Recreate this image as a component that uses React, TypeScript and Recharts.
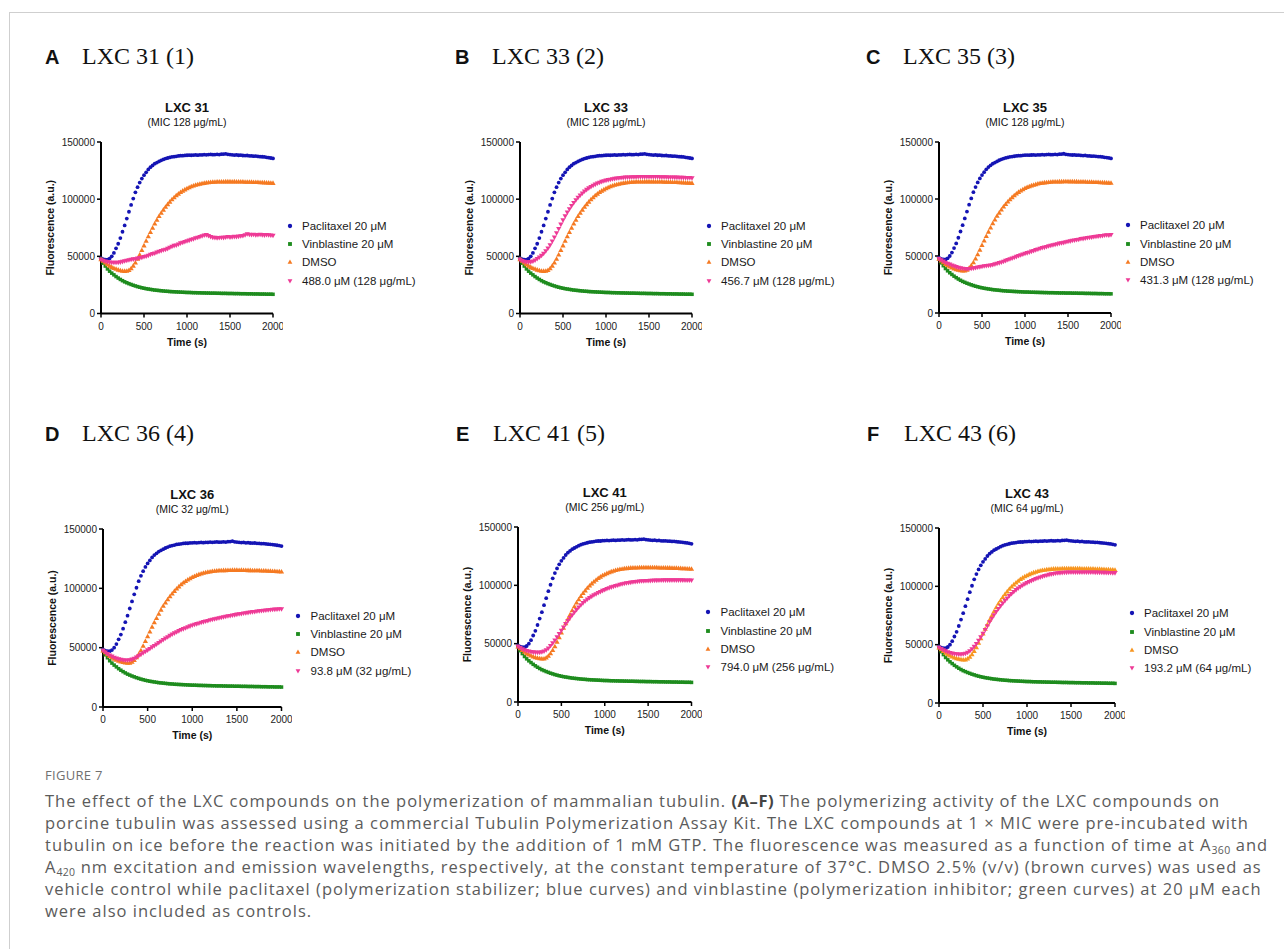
import React from "react"
import { ScatterChart, Scatter, XAxis, YAxis } from "recharts"

// sampling times (s)
const TIMES = [
    0, 25, 50, 75, 100, 125, 150, 175, 200, 225,
    250, 275, 300, 325, 350, 375, 400, 425, 450, 475,
    500, 525, 550, 575, 600, 625, 650, 675, 700, 725,
    750, 775, 800, 825, 850, 875, 900, 925, 950, 975,
    1000, 1025, 1050, 1075, 1100, 1125, 1150, 1175, 1200, 1225,
    1250, 1275, 1300, 1325, 1350, 1375, 1400, 1425, 1450, 1475,
    1500, 1525, 1550, 1575, 1600, 1625, 1650, 1675, 1700, 1725,
    1750, 1775, 1800, 1825, 1850, 1875, 1900, 1925, 1950, 1975,
    2000,
]

// controls (identical in every panel)
const PACLITAXEL = [
    48500, 47500, 47000, 47000, 48000, 50000, 53000, 57000, 61000, 66000,
    71500, 77000, 83000, 89000, 95000, 100500, 106000, 110500, 114500, 118000,
    121000, 123500, 126000, 128000, 129500, 131000, 132000, 133000, 134000, 134800,
    135500, 136000, 136500, 137000, 137200, 137500, 137800, 138000, 138000, 138300,
    138400, 138500, 138400, 138600, 138700, 138500, 138800, 138700, 139000, 138800,
    139000, 139100, 138900, 139000, 139200, 139000, 139300, 139400, 139700, 139200,
    139000, 138800, 138600, 138700, 138400, 138500, 138200, 138100, 138200, 137900,
    137800, 137600, 137700, 137400, 137200, 137100, 136900, 136600, 136300, 136000,
    135600,
]

const VINBLASTINE = [
    47500, 44000, 41500, 39000, 37000, 35300, 33800, 32300, 31000, 29800,
    28700, 27700, 26900, 26100, 25400, 24700, 24100, 23500, 23000, 22500,
    22100, 21700, 21400, 21100, 20800, 20500, 20300, 20100, 19900, 19700,
    19500, 19400, 19200, 19100, 19000, 18900, 18800, 18700, 18600, 18500,
    18400, 18400, 18300, 18200, 18200, 18100, 18100, 18000, 18000, 17900,
    17900, 17800, 17800, 17800, 17700, 17700, 17600, 17600, 17600, 17500,
    17500, 17500, 17400, 17400, 17400, 17300, 17300, 17300, 17200, 17200,
    17200, 17100, 17100, 17100, 17000, 17000, 17000, 16900, 16900, 16900,
    16800,
]

const DMSO = [
    47500, 46000, 44500, 43000, 41800, 40700, 39800, 39000, 38300, 37800,
    37400, 37200, 37300, 38000, 39500, 41800, 44500, 47800, 51500, 55500,
    59500, 63500, 67500, 71300, 75000, 78600, 82000, 85200, 88000, 90800,
    93300, 95600, 97800, 99800, 101600, 103300, 104800, 106200, 107400, 108500,
    109500, 110400, 111200, 111900, 112500, 113000, 113500, 113900, 114200, 114500,
    114700, 114900, 115100, 115200, 115300, 115300, 115400, 115400, 115500, 115500,
    115500, 115400, 115500, 115400, 115400, 115300, 115300, 115200, 115200, 115100,
    115100, 115000, 114900, 114900, 114800, 114700, 114600, 114500, 114400, 114300,
    114200,
]

// compound curves, one per panel
const LXC31 = [
    47000, 46200, 45500, 45000, 44700, 44500, 44400, 44400, 44500, 44800,
    45200, 45700, 46200, 46600, 47000, 47400, 47600, 48100, 48500, 48800,
    49400, 50000, 50600, 51500, 52100, 52600, 53400, 54000, 54700, 55300,
    55800, 56600, 57600, 58500, 59200, 59500, 60500, 61400, 62000, 62600,
    63200, 63800, 64500, 65000, 65800, 66300, 67000, 67600, 68200, 68600,
    67800, 67000, 66400, 66200, 65900, 66100, 66400, 66200, 66600, 66900,
    66500, 66800, 67100, 66900, 67300, 67600, 67900, 68500, 69300, 69000,
    68700, 68900, 68500, 68800, 69000, 68600, 68400, 68800, 68500, 68200,
    68000,
]

const LXC33 = [
    47000, 46000, 45300, 44900, 44800, 45000, 45600, 46500, 47800, 49000,
    50500, 52300, 54500, 57000, 59800, 63000, 66500, 70200, 74000, 77800,
    81500, 85000, 88300, 91300, 94100, 96700, 99100, 101300, 103300, 105100,
    106700, 108200, 109500, 110700, 111800, 112800, 113700, 114500, 115200, 115800,
    116300, 116700, 117100, 117500, 117800, 118100, 118300, 118500, 118700, 118900,
    119000, 119100, 119200, 119300, 119300, 119400, 119400, 119500, 119500, 119500,
    119500, 119500, 119400, 119400, 119400, 119300, 119300, 119200, 119200, 119100,
    119000, 119000, 118900, 118900, 118800, 118700, 118700, 118600, 118500, 118500,
    118400,
]

const LXC35 = [
    47500, 46300, 45200, 44200, 43300, 42500, 41700, 41000, 40300, 39700,
    39200, 38800, 38600, 38500, 38600, 38800, 39100, 39500, 39900, 40300,
    40600, 41000, 41300, 41600, 41800, 42200, 42700, 43200, 43800, 44400,
    45100, 45800, 46500, 47200, 47900, 48600, 49300, 50000, 50700, 51300,
    52000, 52600, 53200, 53900, 54500, 55200, 55800, 56400, 57000, 57400,
    58000, 58600, 59000, 59500, 60000, 60300, 60900, 61300, 61600, 62200,
    62600, 62900, 63400, 63700, 64100, 64300, 64900, 65100, 65400, 65900,
    66100, 66300, 66700, 67000, 67200, 67500, 67600, 68000, 68200, 68100,
    68400,
]

const LXC36 = [
    47500, 46000, 44700, 43500, 42500, 41600, 40900, 40300, 39800, 39500,
    39300, 39300, 39500, 40000, 40800, 41800, 43000, 44200, 45400, 46600,
    47800, 49000, 50300, 51500, 52800, 54000, 55300, 56500, 57800, 58900,
    60000, 61100, 62100, 63100, 64000, 64900, 65700, 66500, 67300, 68000,
    68700, 69300, 69900, 70500, 71100, 71600, 72100, 72600, 73100, 73600,
    74000, 74500, 74900, 75300, 75700, 76100, 76500, 76800, 77200, 77500,
    77900, 78200, 78500, 78800, 79100, 79400, 79700, 80000, 80200, 80500,
    80700, 81000, 81200, 81400, 81600, 81800, 82000, 82100, 82300, 82400,
    82500,
]

const LXC41 = [
    47500, 46300, 45300, 44500, 43800, 43300, 42900, 42600, 42400, 42300,
    42400, 42700, 43400, 44500, 46000, 48000, 50300, 52800, 55500, 58300,
    61200, 64000, 66800, 69400, 72000, 74400, 76700, 78900, 81000, 83000,
    84800, 86400, 87900, 89200, 90400, 91500, 92500, 93500, 94400, 95300,
    96100, 96900, 97600, 98300, 98900, 99500, 100000, 100500, 101000, 101400,
    101800, 102100, 102400, 102700, 102900, 103100, 103300, 103500, 103600, 103700,
    103800, 103900, 104000, 104100, 104100, 104200, 104200, 104300, 104300, 104300,
    104300, 104300, 104300, 104300, 104300, 104300, 104300, 104200, 104200, 104200,
    104200,
]

const LXC43 = [
    47500, 46300, 45200, 44300, 43500, 42900, 42400, 42000, 41800, 41600,
    41600, 41800, 42300, 43200, 44500, 46200, 48300, 50700, 53400, 56300,
    59400, 62600, 65900, 69200, 72300, 75300, 78100, 80700, 83100, 85400,
    87600, 89700, 91700, 93500, 95200, 96800, 98200, 99500, 100700, 101800,
    102800, 103800, 104700, 105500, 106300, 107000, 107700, 108300, 108900, 109400,
    109900, 110300, 110700, 111000, 111200, 111400, 111600, 111700, 111800, 111900,
    112000, 112000, 112000, 112000, 112000, 112000, 112000, 112000, 111900, 111900,
    111900, 111800, 111800, 111700, 111700, 111600, 111600, 111500, 111500, 111400,
    111400,
]

const X_TICKS = [0, 500, 1000, 1500, 2000]
const Y_TICKS = [0, 50000, 100000, 150000]

const BLUE = "#1414b4"
const GREEN = "#1e8c1e"
const ORANGE = "#f57a22"
const ORANGE_F = "#f7951f"
const PINK = "#ee3a96"

const YW = 62
const MT = 10
const XH = 36

type Kind = "circle" | "square" | "up" | "down"

function drawMarker(kind: Kind, color: string, cx: number, cy: number, s: number) {
    if (kind === "circle") return <circle cx={cx} cy={cy} r={s * 0.9} fill={color} />
    if (kind === "square") return <rect x={cx - s * 0.8} y={cy - s * 0.8} width={s * 1.6} height={s * 1.6} fill={color} />
    if (kind === "up")
        return <polygon points={`${cx},${cy - s} ${cx + s},${cy + s * 0.75} ${cx - s},${cy + s * 0.75}`} fill={color} />
    return <polygon points={`${cx},${cy + s} ${cx + s},${cy - s * 0.75} ${cx - s},${cy - s * 0.75}`} fill={color} />
}

const SIZE: Record<Kind, number> = { circle: 2.1, square: 2.2, up: 2.6, down: 2.6 }

const shapeOf = (kind: Kind, color: string) => (p: any) =>
    drawMarker(kind, color, p.cx, p.cy, SIZE[kind])

interface PanelProps {
    letter: string
    letterX: number
    headingY: number
    heading: string
    title: string
    mic: string
    label: string
    values: number[]
    left: number
    top: number
    w: number
    h: number
    orange: string
}

function Panel(p: PanelProps) {
    const series = [
        { name: "Paclitaxel 20 μM", kind: "circle" as Kind, color: BLUE, values: PACLITAXEL },
        { name: "Vinblastine 20 μM", kind: "square" as Kind, color: GREEN, values: VINBLASTINE },
        { name: "DMSO", kind: "up" as Kind, color: p.orange, values: DMSO },
        { name: p.label, kind: "down" as Kind, color: PINK, values: p.values },
    ]
    const cx = p.left + p.w / 2
    const legendTop = p.top + p.h * 0.487 - 9
    return (
        <>
            <div style={{ position: "absolute", left: p.letterX, top: p.headingY, transform: "translateY(-50%)", display: "flex", alignItems: "baseline", whiteSpace: "nowrap" }}>
                <span style={{ fontSize: 20, fontWeight: 700, width: 37 }}>{p.letter}</span>
                <span style={{ fontFamily: '"Liberation Serif", "Times New Roman", serif', fontSize: 24 }}>{p.heading}</span>
            </div>
            <div style={{ position: "absolute", left: cx, top: p.top - 35, transform: "translate(-50%, -50%)", fontSize: 13, fontWeight: 700, lineHeight: 1, whiteSpace: "nowrap" }}>
                {p.title}
            </div>
            <div style={{ position: "absolute", left: cx, top: p.top - 20, transform: "translate(-50%, -50%)", fontSize: 10.5, lineHeight: 1, whiteSpace: "nowrap" }}>
                {p.mic}
            </div>
            <div style={{ position: "absolute", left: p.left - YW, top: p.top - MT }}>
                <ScatterChart width={YW + p.w + 10} height={MT + p.h + XH} margin={{ top: MT, right: 10, bottom: 0, left: 0 }}>
                    <XAxis
                        type="number"
                        dataKey="t"
                        domain={[0, 2000]}
                        ticks={X_TICKS}
                        interval={0}
                        height={XH}
                        axisLine={{ stroke: "#000", strokeWidth: 2 }}
                        tickLine={{ stroke: "#000", strokeWidth: 1.5 }}
                        tickSize={4}
                        tickMargin={5}
                        tick={{ fontSize: 10, fill: "#222" }}
                        label={{ value: "Time (s)", position: "insideBottom", offset: 4, style: { fontSize: 10.5, fontWeight: 700, fill: "#111" } }}
                    />
                    <YAxis
                        type="number"
                        dataKey="v"
                        domain={[0, 150000]}
                        ticks={Y_TICKS}
                        interval={0}
                        width={YW}
                        axisLine={{ stroke: "#000", strokeWidth: 2 }}
                        tickLine={{ stroke: "#000", strokeWidth: 1.5 }}
                        tickSize={4}
                        tickMargin={2}
                        tick={{ fontSize: 10, fill: "#222" }}
                        label={{ value: "Fluorescence (a.u.)", angle: -90, position: "insideLeft", offset: 11, style: { textAnchor: "middle", fontSize: 10.5, fontWeight: 700, fill: "#111" } }}
                    />
                    {series.map((s) => (
                        <Scatter
                            key={s.name}
                            name={s.name}
                            data={TIMES.map((t, i) => ({ t, v: s.values[i] }))}
                            shape={shapeOf(s.kind, s.color)}
                            isAnimationActive={false}
                        />
                    ))}
                </ScatterChart>
            </div>
            {/* legend */}
            <div style={{ position: "absolute", left: p.left + p.w + 10.5, top: legendTop }}>
                {series.map((s) => (
                    <div key={s.name} style={{ display: "flex", alignItems: "center", height: 18.3, whiteSpace: "nowrap" }}>
                        <svg width={12} height={12} style={{ marginRight: 6.5 }}>
                            {drawMarker(s.kind, s.color, 6, 6, 2.4)}
                        </svg>
                        <span style={{ fontSize: 11.5, color: "#1a1a1a" }}>{s.name}</span>
                    </div>
                ))}
            </div>
        </>
    )
}

const PANELS: PanelProps[] = [
    { letter: "A", letterX: 45, headingY: 56, heading: "LXC 31 (1)", title: "LXC 31", mic: "(MIC 128 μg/mL)", label: "488.0 μM (128 μg/mL)", values: LXC31, left: 101, top: 142, w: 172, h: 171.5, orange: ORANGE },
    { letter: "B", letterX: 455, headingY: 56, heading: "LXC 33 (2)", title: "LXC 33", mic: "(MIC 128 μg/mL)", label: "456.7 μM (128 μg/mL)", values: LXC33, left: 520, top: 142, w: 172, h: 171.5, orange: ORANGE },
    { letter: "C", letterX: 866, headingY: 56, heading: "LXC 35 (3)", title: "LXC 35", mic: "(MIC 128 μg/mL)", label: "431.3 μM (128 μg/mL)", values: LXC35, left: 939, top: 142, w: 172, h: 171, orange: ORANGE },
    { letter: "D", letterX: 45, headingY: 433, heading: "LXC 36 (4)", title: "LXC 36", mic: "(MIC 32 μg/mL)", label: "93.8 μM (32 μg/mL)", values: LXC36, left: 103, top: 529, w: 178.5, h: 178, orange: ORANGE },
    { letter: "E", letterX: 456, headingY: 433, heading: "LXC 41 (5)", title: "LXC 41", mic: "(MIC 256 μg/mL)", label: "794.0 μM (256 μg/mL)", values: LXC41, left: 518, top: 527, w: 173.5, h: 175, orange: ORANGE },
    { letter: "F", letterX: 867, headingY: 433, heading: "LXC 43 (6)", title: "LXC 43", mic: "(MIC 64 μg/mL)", label: "193.2 μM (64 μg/mL)", values: LXC43, left: 939, top: 528, w: 176, h: 175, orange: ORANGE_F },
]

const lineStyle: React.CSSProperties = { whiteSpace: "nowrap", height: 22, lineHeight: "22px" }
const sub: React.CSSProperties = { fontSize: 10.5, verticalAlign: "-2.5px", lineHeight: 0, letterSpacing: 0.3 }

export default function App() {
    return (
        <div style={{ position: "absolute", left: 0, top: 0, width: 1284, height: 949, background: "#fff", overflow: "hidden", fontFamily: '"Liberation Sans", Arial, sans-serif', color: "#111" }}>
            <div style={{ position: "absolute", left: 9, top: 12, width: 1280, height: 940, borderTop: "1.5px solid #cfcfcf", borderLeft: "1.5px solid #cfcfcf" }} />
            {PANELS.map((p) => (
                <Panel key={p.letter} {...p} />
            ))}
            {/* caption */}
            <div style={{ position: "absolute", left: 45, top: 764, fontFamily: '"Open Sans", sans-serif', color: "#5b5b5b" }}>
                <div style={{ ...lineStyle, fontSize: 13, color: "#707070", letterSpacing: 0.3 }}>FIGURE 7</div>
                <div style={{ fontSize: 16.5, letterSpacing: 1.0, marginTop: 4 }}>
                    <div style={lineStyle}>The effect of the LXC compounds on the polymerization of mammalian tubulin. <b style={{ color: "#444", letterSpacing: 0.6 }}>(A–F)</b> The polymerizing activity of the LXC compounds on</div>
                    <div style={lineStyle}>porcine tubulin was assessed using a commercial Tubulin Polymerization Assay Kit. The LXC compounds at 1 × MIC were pre-incubated with</div>
                    <div style={lineStyle}>tubulin on ice before the reaction was initiated by the addition of 1 mM GTP. The fluorescence was measured as a function of time at A<span style={sub}>360</span> and</div>
                    <div style={lineStyle}>A<span style={sub}>420</span> nm excitation and emission wavelengths, respectively, at the constant temperature of 37°C. DMSO 2.5% (v/v) (brown curves) was used as</div>
                    <div style={lineStyle}>vehicle control while paclitaxel (polymerization stabilizer; blue curves) and vinblastine (polymerization inhibitor; green curves) at 20 μM each</div>
                    <div style={lineStyle}>were also included as controls.</div>
                </div>
            </div>
        </div>
    )
}
